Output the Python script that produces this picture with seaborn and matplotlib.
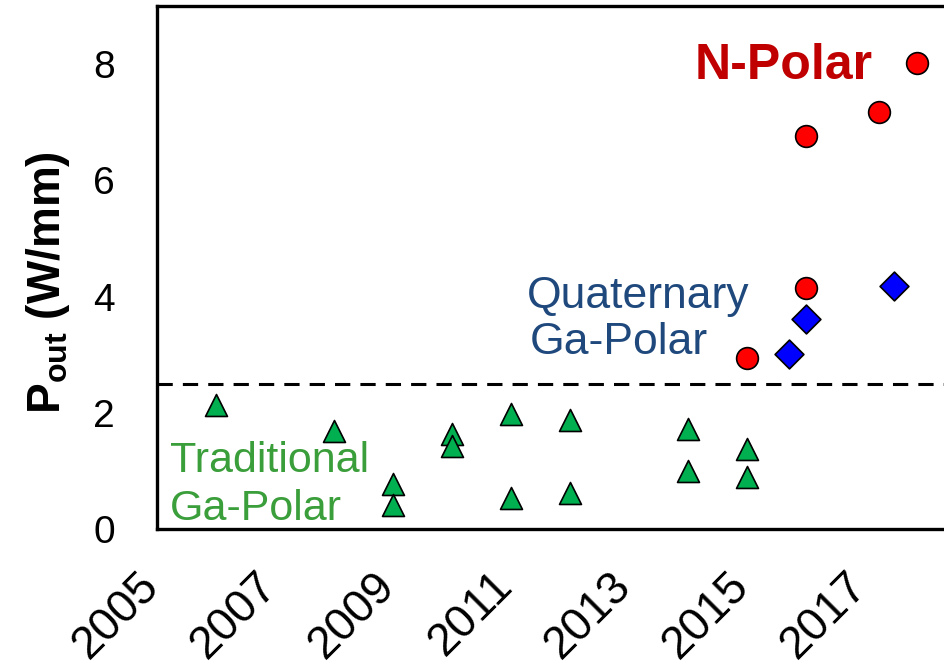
import matplotlib
matplotlib.use("Agg")
import matplotlib.pyplot as plt
import matplotlib.transforms as mtransforms
import seaborn as sns
import pandas as pd

# Output power density of GaN HEMTs by year of report
years_traditional = [2006, 2008, 2009, 2009, 2010, 2010, 2011, 2011,
                     2012, 2012, 2014, 2014, 2015, 2015]
pout_traditional = [2.13, 1.69, 0.78, 0.42, 1.63, 1.43, 1.98, 0.53,
                    1.88, 0.62, 1.72, 0.99, 1.37, 0.90]

years_quaternary = [2015.72, 2016.0, 2017.5]
pout_quaternary = [3.01, 3.62, 4.18]

years_npolar = [2015.0, 2016.0, 2016.0, 2017.25, 2017.88]
pout_npolar = [2.95, 4.15, 6.77, 7.17, 8.02]

threshold = 2.5
year_labels = [2005, 2007, 2009, 2011, 2013, 2015, 2017]
minor_years = [2006, 2008, 2010, 2012, 2014, 2016, 2018]
y_ticks = [0, 2, 4, 6, 8]

sns.set_style("white")
plt.rcParams["font.family"] = ["Liberation Sans", "DejaVu Sans"]
plt.rcParams["mathtext.fontset"] = "custom"
plt.rcParams["mathtext.rm"] = "Liberation Sans"
plt.rcParams["mathtext.bf"] = "Liberation Sans:bold"
for key in ["text.color", "axes.labelcolor", "xtick.color", "ytick.color",
            "axes.edgecolor"]:
    plt.rcParams[key] = "black"

W, H = 944, 667
fig = plt.figure(figsize=(W / 100, H / 100), dpi=100)
left_px, bottom_px, top_px = 156.7, 529, 6
ax = fig.add_axes([left_px / W, (H - bottom_px) / H,
                   1 - left_px / W, (bottom_px - top_px) / H])

df_trad = pd.DataFrame({"year": years_traditional, "pout": pout_traditional})
df_quat = pd.DataFrame({"year": years_quaternary, "pout": pout_quaternary})
df_npol = pd.DataFrame({"year": years_npolar, "pout": pout_npolar})

ax.axhline(threshold, color="black", lw=2.2, dashes=(5, 3.3), zorder=2)

sns.scatterplot(data=df_trad, x="year", y="pout", marker="^", s=250,
                color="#00B050", edgecolor="black", linewidth=1.2,
                ax=ax, zorder=3, legend=False)
sns.scatterplot(data=df_quat, x="year", y="pout", marker="D", s=215,
                color="#0000FF", edgecolor="black", linewidth=1.2,
                ax=ax, zorder=3, legend=False)
sns.scatterplot(data=df_npol, x="year", y="pout", marker="o", s=245,
                color="#FF0000", edgecolor="black", linewidth=1.2,
                ax=ax, zorder=3, legend=False)

ax.set_xlim(2005, 2005 + (W - left_px) / 59.0)
ax.set_ylim(0, 9)

for side in ["left", "bottom", "top"]:
    ax.spines[side].set_linewidth(2.4)
    ax.spines[side].set_color("black")
ax.spines["right"].set_visible(False)

ax.set_xticks(year_labels)
ax.set_xticklabels([str(y) for y in year_labels])
ax.set_xticks(minor_years, minor=True)
ax.set_yticks(y_ticks)
ax.set_yticklabels([str(v) for v in y_ticks])

ax.tick_params(axis="x", which="major", direction="in", length=11,
               width=1.2, pad=25, labelsize=33, color="black",
               labelcolor="black")
ax.tick_params(axis="x", which="minor", direction="in", length=9,
               width=1.2, color="black")
ax.tick_params(axis="y", which="major", direction="in", length=12,
               width=1.2, pad=30, labelsize=28, color="black",
               labelcolor="black")
shift_left = mtransforms.ScaledTranslation(-0.2, 0, fig.dpi_scale_trans)
for lbl in ax.get_xticklabels():
    lbl.set_rotation(45)
    lbl.set_ha("right")
    lbl.set_va("top")
    lbl.set_rotation_mode("anchor")
    lbl.set_transform(lbl.get_transform() + shift_left)

ax.set_xlabel("")
ax.set_ylabel(r"$\mathbf{P_{out}}$ (W/mm)", fontsize=33, fontweight="bold",
              color="black")
ax.yaxis.set_label_coords(-0.107, 0.471)

ax.text(2014.12, 7.74, "N-Polar", color="#C00000", fontsize=36,
        fontweight="bold", ha="left", va="baseline")
ax.text(2011.28, 3.81, "Quaternary", color="#1F497D", fontsize=32,
        ha="left", va="baseline")
ax.text(2011.33, 3.01, "Ga-Polar", color="#1F497D", fontsize=32,
        ha="left", va="baseline")
ax.text(2005.225, 0.974, "Traditional", color="#3A9E3A", fontsize=31,
        ha="left", va="baseline")
ax.text(2005.225, 0.156, "Ga-Polar", color="#3A9E3A", fontsize=31,
        ha="left", va="baseline")

fig.savefig("out.png", dpi=100)
